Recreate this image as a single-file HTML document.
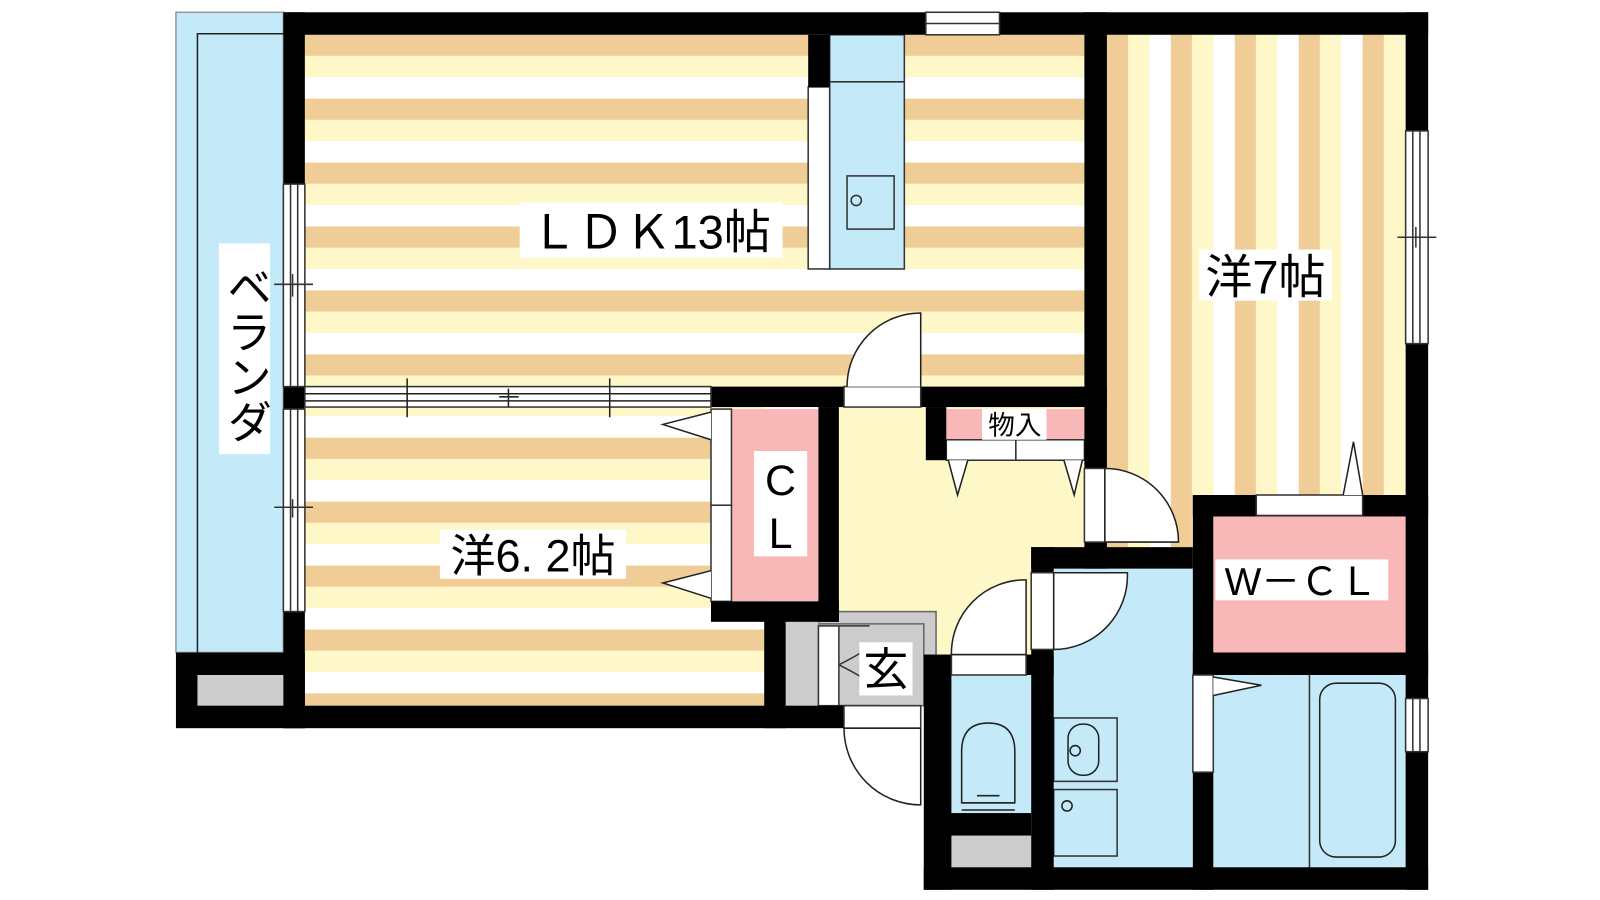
<!DOCTYPE html>
<html><head><meta charset="utf-8"><style>
html,body{margin:0;padding:0;background:#fff;width:1600px;height:900px;overflow:hidden}
svg{display:block}
text{font-family:"Liberation Sans","Noto Sans CJK JP",sans-serif;fill:#000}
</style></head><body>
<svg width="1600" height="900" viewBox="0 0 1564 880" preserveAspectRatio="none" xmlns="http://www.w3.org/2000/svg">
<defs>
<pattern id="h1" patternUnits="userSpaceOnUse" width="10" height="62.5" y="34">
<rect width="10" height="20.8" fill="#f0cc96"/><rect y="20.8" width="10" height="20.8" fill="#fef8c8"/><rect y="41.6" width="10" height="21" fill="#fff"/></pattern>
<pattern id="h2" patternUnits="userSpaceOnUse" width="10" height="62.5" y="428">
<rect width="10" height="20.8" fill="#f0cc96"/><rect y="20.8" width="10" height="20.8" fill="#fef8c8"/><rect y="41.6" width="10" height="21" fill="#fff"/></pattern>
<pattern id="v1" patternUnits="userSpaceOnUse" width="62.5" height="10" x="1082">
<rect width="20.8" height="10" fill="#f0cc96"/><rect x="20.8" width="20.8" height="10" fill="#fef8c8"/><rect x="41.6" width="21" height="10" fill="#fff"/></pattern>
</defs>
<g stroke-width="1.5">
<!-- veranda -->
<rect x="172" y="12" width="105" height="626" fill="#c4e9f9" stroke="#999"/>
<path d="M193 638 V33 H277" fill="none" stroke="#222"/>
<!-- floors -->
<rect x="298" y="34" width="762" height="344" fill="url(#h1)"/>
<rect x="298" y="398" width="449" height="292" fill="url(#h2)"/>
<rect x="1082" y="34" width="292" height="450" fill="url(#v1)"/>
<rect x="820" y="398" width="240" height="245" fill="#fef8c8"/>
<rect x="1030" y="450" width="52" height="90" fill="#fef8c8"/>
<rect x="1082" y="484" width="84" height="52" fill="url(#v1)"/>
<!-- genkan -->
<rect x="800" y="598" width="115" height="92" fill="#ccc" stroke="#666"/>
<rect x="800" y="610" width="103" height="80" fill="#ccc" stroke="#666"/>
<rect x="768" y="608" width="32" height="82" fill="#ccc"/>
<rect x="800" y="612" width="20" height="78" fill="#fff" stroke="#333"/>
<path d="M820 612 H850 M820 690 H860 M820 650 q12 -6 22 -12 M820 650 q12 6 22 12" fill="none" stroke="#333"/>
<!-- kitchen -->
<rect x="811" y="34" width="73" height="229" fill="#c4e9f9" stroke="#333"/>
<rect x="790" y="85" width="21" height="178" fill="#fff" stroke="#333"/>
<path d="M811 80 H884" stroke="#333"/>
<rect x="828" y="172" width="46" height="52" fill="none" stroke="#333"/>
<circle cx="837" cy="196" r="5" fill="none" stroke="#333"/>
<!-- closets -->
<rect x="715" y="400" width="85" height="188" fill="#f8b8b8"/>
<rect x="695" y="400" width="20" height="94" fill="#fff" stroke="#333"/>
<rect x="695" y="494" width="20" height="94" fill="#fff" stroke="#333"/>
<path d="M695 403 L648 415 L695 430 M695 558 L648 570 L695 585" fill="#fff" stroke="#222"/>
<rect x="925" y="400" width="135" height="30" fill="#f8b8b8"/>
<rect x="925" y="430" width="68" height="20" fill="#fff" stroke="#333"/>
<rect x="993" y="430" width="67" height="20" fill="#fff" stroke="#333"/>
<path d="M927 450 L936 484 L946 450 M1040 450 L1050 484 L1058 450" fill="#fff" stroke="#222"/>
<rect x="1186" y="505" width="188" height="133" fill="#f8b8b8"/>
<!-- wet -->
<rect x="1030" y="556" width="136" height="294" fill="#c4e9f9"/>
<rect x="925" y="660" width="83" height="135" fill="#c4e9f9"/>
<rect x="925" y="817" width="83" height="31" fill="#ccc"/>
<rect x="1186" y="660" width="188" height="190" fill="#c4e9f9"/>
<path d="M1280 660 V850" stroke="#333"/>
<rect x="1290" y="668" width="74" height="170" rx="16" fill="none" stroke="#222"/>
<rect x="1030" y="702" width="62" height="62" fill="none" stroke="#333"/>
<rect x="1044" y="708" width="30" height="50" rx="14" fill="none" stroke="#222"/>
<circle cx="1051" cy="734" r="5" fill="#c4e9f9" stroke="#222"/>
<rect x="1030" y="772" width="62" height="65" fill="none" stroke="#333"/>
<circle cx="1043" cy="788" r="5" fill="none" stroke="#222"/>
<path d="M940 785 V735 q0 -28 26 -28 q26 0 26 28 V785 Z M940 785 H992" fill="none" stroke="#222"/>
<path d="M940 785 H992 M955 778 H977 M940 792 H992" fill="none" stroke="#222"/>
<!-- walls -->
<g fill="#000">
<rect x="277" y="12" width="628" height="22"/><rect x="977" y="12" width="419" height="22"/>
<rect x="277" y="12" width="21" height="168"/><rect x="277" y="378" width="21" height="22"/><rect x="277" y="598" width="21" height="114"/>
<rect x="172" y="638" width="126" height="74"/><rect x="277" y="690" width="548" height="22"/>
<rect x="1374" y="12" width="22" height="116"/><rect x="1374" y="336" width="22" height="347"/><rect x="1374" y="735" width="22" height="135"/>
<rect x="1060" y="12" width="22" height="446"/><rect x="1060" y="530" width="22" height="26"/>
<rect x="695" y="378" width="130" height="20"/><rect x="900" y="378" width="182" height="20"/>
<rect x="905" y="398" width="20" height="52"/>
<rect x="800" y="398" width="20" height="210"/><rect x="695" y="588" width="125" height="20"/>
<rect x="747" y="598" width="21" height="114"/>
<rect x="790" y="34" width="21" height="51"/>
<rect x="903" y="640" width="27" height="230"/><rect x="1003" y="640" width="27" height="20"/>
<rect x="1008" y="535" width="158" height="21"/><rect x="1008" y="535" width="22" height="25"/><rect x="1008" y="635" width="22" height="235"/>
<rect x="925" y="795" width="83" height="22"/>
<rect x="903" y="848" width="493" height="22"/>
<rect x="1166" y="484" width="230" height="21"/><rect x="1166" y="484" width="20" height="176"/><rect x="1166" y="755" width="20" height="115"/>
<rect x="1166" y="638" width="230" height="22"/>
</g>
<rect x="193" y="660" width="84" height="30" fill="#ccc"/>
<!-- windows -->
<rect x="905" y="12" width="72" height="22" fill="#fff" stroke="#333"/><path d="M905 23 H977" stroke="#333"/>
<rect x="277" y="180" width="21" height="198" fill="#fff" stroke="#333"/><path d="M284 180 V378 M291 180 V378 M268 278 H306 M286 268 V290" stroke="#333" fill="none"/>
<rect x="277" y="400" width="21" height="198" fill="#fff" stroke="#333"/><path d="M284 400 V598 M291 400 V598 M268 496 H306 M286 488 V506" stroke="#333" fill="none"/>
<rect x="1374" y="128" width="22" height="208" fill="#fff" stroke="#333"/><path d="M1381 128 V336 M1388 128 V336 M1366 232 H1404 M1384 222 V242" stroke="#333" fill="none"/>
<rect x="1374" y="683" width="22" height="52" fill="#fff" stroke="#333"/><path d="M1381 683 V735 M1388 683 V735" stroke="#333"/>
<rect x="298" y="378" width="397" height="20" fill="#fff" stroke="#333"/><path d="M298 385 H695 M298 392 H695 M398 370 V408 M596 370 V408 M497 380 V398 M488 388 H507" stroke="#222" fill="none"/>
<!-- doors -->
<rect x="825" y="378" width="75" height="20" fill="#fff" stroke="#333"/>
<path d="M828 378 A72 72 0 0 1 900 306 V378" fill="#fff" stroke="#222"/>
<rect x="1060" y="458" width="20" height="72" fill="#fff" stroke="#333"/>
<path d="M1080 458 A72 72 0 0 1 1152 530 H1080 Z" fill="#fff" stroke="#222"/>
<rect x="930" y="640" width="73" height="20" fill="#fff" stroke="#333"/>
<path d="M930 640 A72 72 0 0 1 1003 567 V640 Z" fill="#fff" stroke="#222"/>
<rect x="1008" y="560" width="22" height="75" fill="#fff" stroke="#333"/>
<path d="M1030 560 H1102 A72 72 0 0 1 1030 635 Z" fill="#fff" stroke="#222"/>
<rect x="825" y="690" width="75" height="22" fill="#fff" stroke="#333"/>
<path d="M825 712 A75 75 0 0 0 900 787 V712 Z" fill="#fff" stroke="#222"/>
<rect x="1228" y="484" width="104" height="20" fill="#fff" stroke="#333"/>
<path d="M1313 484 L1323 432 L1332 484" fill="#fff" stroke="#222"/>
<rect x="1166" y="660" width="20" height="95" fill="#fff" stroke="#333"/>
<path d="M1186 662 L1233 670 L1186 680" fill="#fff" stroke="#222"/>
</g>
<!-- labels -->
<rect x="214" y="238" width="50" height="206" fill="#fff"/>
<text x="240" y="258" font-size="44" style="writing-mode:vertical-rl" text-anchor="start">ベランダ</text>
<rect x="508" y="198" width="257" height="54" fill="#fff"/>
<text x="636" y="243" font-size="46" text-anchor="middle">ＬＤＫ13帖</text>
<rect x="1172" y="244" width="130" height="50" fill="#fff"/>
<text x="1237" y="287" font-size="46" text-anchor="middle">洋7帖</text>
<rect x="430" y="518" width="182" height="48" fill="#fff"/>
<text x="521" y="559" font-size="44" text-anchor="middle">洋6. 2帖</text>
<rect x="737" y="441" width="52" height="103" fill="#fff"/>
<text x="763" y="484" font-size="42" text-anchor="middle">C</text>
<text x="763" y="536" font-size="42" text-anchor="middle">L</text>
<rect x="960" y="400" width="63" height="30" fill="#fff"/>
<text x="992" y="425" font-size="26" text-anchor="middle">物入</text>
<rect x="1188" y="547" width="169" height="40" fill="#fff"/>
<text x="1272" y="582" font-size="38" text-anchor="middle">W－ＣＬ</text>
<rect x="840" y="628" width="52" height="52" fill="#fff"/>
<text x="866" y="670" font-size="44" text-anchor="middle">玄</text>
</svg>
</body></html>
